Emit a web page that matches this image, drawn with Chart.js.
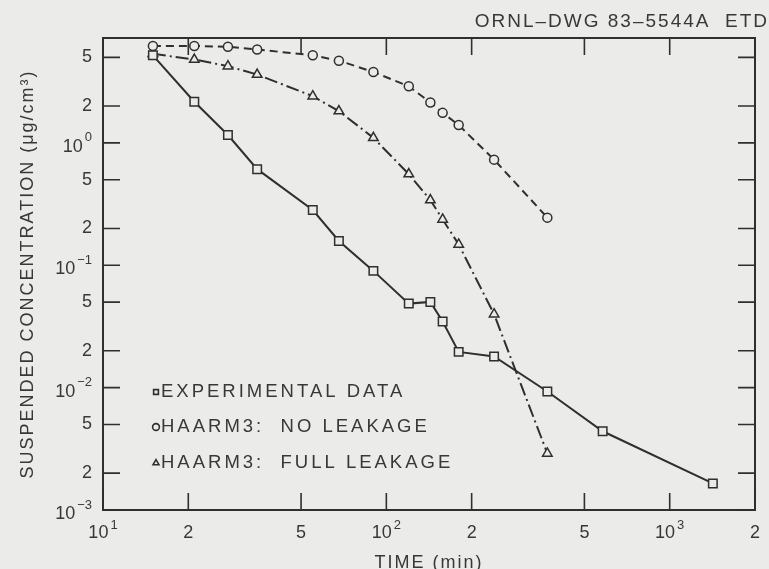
<!DOCTYPE html>
<html>
<head>
<meta charset="utf-8">
<script src="https://cdn.jsdelivr.net/npm/chart.js@4/dist/chart.umd.min.js"></script>
<style>
  html, body { margin: 0; padding: 0; background: #ebebe9; }
  #wrap { width: 769px; height: 569px; }
</style>
</head>
<body>
<div id="wrap"><canvas id="chart" width="769" height="569"></canvas></div>
<script>
const drawingId = 'ORNL\u2013DWG 83\u20135544A  ETD';

// sampling times (min) shared by all three curves
const timesMin = [15, 21, 27.6, 35, 55, 68, 90, 120, 143, 158, 180, 240, 370, 580, 1420];

// suspended concentration, ug/cm3
const experimental = [5.2, 2.17, 1.16, 0.61, 0.283, 0.158, 0.09, 0.0486, 0.0502, 0.0347, 0.0196, 0.018, 0.0093, 0.0044, 0.00165];
const noLeakage = [6.2, 6.2, 6.1, 5.8, 5.2, 4.7, 3.8, 2.9, 2.14, 1.76, 1.4, 0.73, 0.245];
const fullLeakage = [5.35, 4.8, 4.24, 3.62, 2.41, 1.82, 1.1, 0.556, 0.341, 0.237, 0.148, 0.0398, 0.0029];

const seriesNames = ['EXPERIMENTAL DATA', 'HAARM3:  NO LEAKAGE', 'HAARM3:  FULL LEAKAGE'];

const xTicks = [10, 20, 50, 100, 200, 500, 1000, 2000];
const yTicks = [0.001, 0.002, 0.005, 0.01, 0.02, 0.05, 0.1, 0.2, 0.5, 1, 2, 5];

const ink = '#2f2f2f';
const textInk = '#383838';
const paper = '#ebebe9';
const FONT = '"Liberation Sans", Arial, sans-serif';

function toPoints(values) {
  return values.map((v, i) => ({ x: timesMin[i], y: v }));
}

// "10" + exponent for decades, otherwise the single leading digit
function tickParts(v) {
  const e = Math.round(Math.log10(v));
  if (Math.abs(v - Math.pow(10, e)) < v * 1e-6) {
    return ['10', e < 0 ? '\u2212' + (-e) : String(e)];
  }
  const m = Math.round(v / Math.pow(10, Math.floor(Math.log10(v) + 1e-9)));
  return [String(m), ''];
}

function drawTickLabel(ctx, v, x, y, align, supLift) {
  const [base, sup] = tickParts(v);
  ctx.letterSpacing = '0px';
  ctx.font = '18px ' + FONT;
  const bw = ctx.measureText(base).width;
  ctx.font = '13px ' + FONT;
  const sw = sup ? ctx.measureText(sup).width + 2 : 0;
  const total = bw + sw;
  const left = align === 'right' ? x - total : x - total / 2;
  ctx.textAlign = 'left';
  ctx.textBaseline = 'middle';
  ctx.font = '18px ' + FONT;
  ctx.fillText(base, left, sup && align === 'right' ? y + 4 : y);
  if (sup) {
    ctx.font = '13px ' + FONT;
    ctx.fillText(sup, left + bw + 2, y - supLift);
  }
}

const paperPlugin = {
  id: 'paper',
  beforeDraw(chart) {
    const ctx = chart.ctx;
    ctx.save();
    ctx.fillStyle = paper;
    ctx.fillRect(0, 0, chart.width, chart.height);
    ctx.restore();
    // wide tracking for the axis titles
    ctx.letterSpacing = '2px';
  }
};

const framePlugin = {
  id: 'frame',
  afterDraw(chart) {
    const { ctx, chartArea: a, scales } = chart;
    const tick = 17;
    ctx.save();
    ctx.strokeStyle = ink;
    ctx.lineWidth = 2;
    ctx.setLineDash([]);
    ctx.strokeRect(a.left, a.top, a.right - a.left, a.bottom - a.top);

    ctx.lineWidth = 1.6;
    ctx.beginPath();
    scales.x.ticks.forEach(t => {
      const px = scales.x.getPixelForValue(t.value);
      ctx.moveTo(px, a.bottom); ctx.lineTo(px, a.bottom - tick);
      ctx.moveTo(px, a.top); ctx.lineTo(px, a.top + tick);
    });
    scales.y.ticks.forEach(t => {
      const py = scales.y.getPixelForValue(t.value);
      ctx.moveTo(a.left, py); ctx.lineTo(a.left + tick, py);
      ctx.moveTo(a.right, py); ctx.lineTo(a.right - tick, py);
    });
    ctx.stroke();

    ctx.fillStyle = textInk;
    scales.x.ticks.forEach(t => {
      drawTickLabel(ctx, t.value, scales.x.getPixelForValue(t.value), a.bottom + 23, 'center', 8);
    });
    scales.y.ticks.forEach(t => {
      drawTickLabel(ctx, t.value, a.left - 11, scales.y.getPixelForValue(t.value), 'right', 5);
    });

    // legend inside the plot, markers only
    const rows = [392, 427, 463];
    chart.data.datasets.forEach((ds, i) => {
      ctx.strokeStyle = ink;
      ctx.fillStyle = paper;
      Chart.helpers.drawPoint(ctx, { pointStyle: ds.pointStyle, radius: 3.4, borderWidth: 1.4, rotation: 0 }, 156, rows[i]);
      ctx.fillStyle = textInk;
      ctx.font = '18.5px ' + FONT;
      ctx.letterSpacing = '3px';
      ctx.textAlign = 'left';
      ctx.textBaseline = 'middle';
      ctx.fillText(ds.label, 161, rows[i]);
    });

    // drawing number, top right
    ctx.font = '19px ' + FONT;
    ctx.letterSpacing = '2px';
    ctx.textAlign = 'right';
    ctx.fillText(drawingId, 769, 22);
    ctx.restore();
  }
};

new Chart(document.getElementById('chart'), {
  type: 'line',
  data: {
    datasets: [
      {
        label: seriesNames[0],
        data: toPoints(experimental),
        borderColor: ink,
        borderWidth: 2,
        pointStyle: 'rect',
        pointRadius: 6,
        pointBorderWidth: 1.5,
        pointBackgroundColor: paper,
        pointBorderColor: ink
      },
      {
        label: seriesNames[1],
        data: toPoints(noLeakage),
        borderColor: ink,
        borderWidth: 2,
        borderDash: [8, 5],
        pointStyle: 'circle',
        pointRadius: 4.5,
        pointBorderWidth: 1.5,
        pointBackgroundColor: paper,
        pointBorderColor: ink
      },
      {
        label: seriesNames[2],
        data: toPoints(fullLeakage),
        borderColor: ink,
        borderWidth: 2,
        borderDash: [13, 4, 2, 4],
        pointStyle: 'triangle',
        pointRadius: 5.5,
        pointBorderWidth: 1.5,
        pointBackgroundColor: paper,
        pointBorderColor: ink
      }
    ]
  },
  options: {
    responsive: false,
    animation: false,
    devicePixelRatio: 1,
    layout: { padding: { top: 38, right: 14, left: 0, bottom: 0 } },
    plugins: {
      legend: { display: false },
      tooltip: { enabled: false }
    },
    scales: {
      x: {
        type: 'logarithmic',
        min: 10,
        max: 2000,
        grid: { display: false },
        border: { display: false },
        ticks: { display: false },
        afterBuildTicks: s => { s.ticks = xTicks.map(v => ({ value: v })); },
        afterFit: s => { s.height = 59; },
        title: {
          display: true,
          text: 'TIME (min)',
          color: textInk,
          font: { family: FONT, size: 18 },
          padding: { top: 0, bottom: -5 }
        }
      },
      y: {
        type: 'logarithmic',
        min: 0.001,
        max: 7.2,
        grid: { display: false },
        border: { display: false },
        ticks: { display: false },
        afterBuildTicks: s => { s.ticks = yTicks.map(v => ({ value: v })); },
        afterFit: s => { s.width = 103; },
        title: {
          display: true,
          text: 'SUSPENDED CONCENTRATION (\u03bcg/cm\u00b3)',
          color: textInk,
          font: { family: FONT, size: 18 },
          padding: { top: 17, bottom: 0 }
        }
      }
    }
  },
  plugins: [paperPlugin, framePlugin]
});
</script>
</body>
</html>
